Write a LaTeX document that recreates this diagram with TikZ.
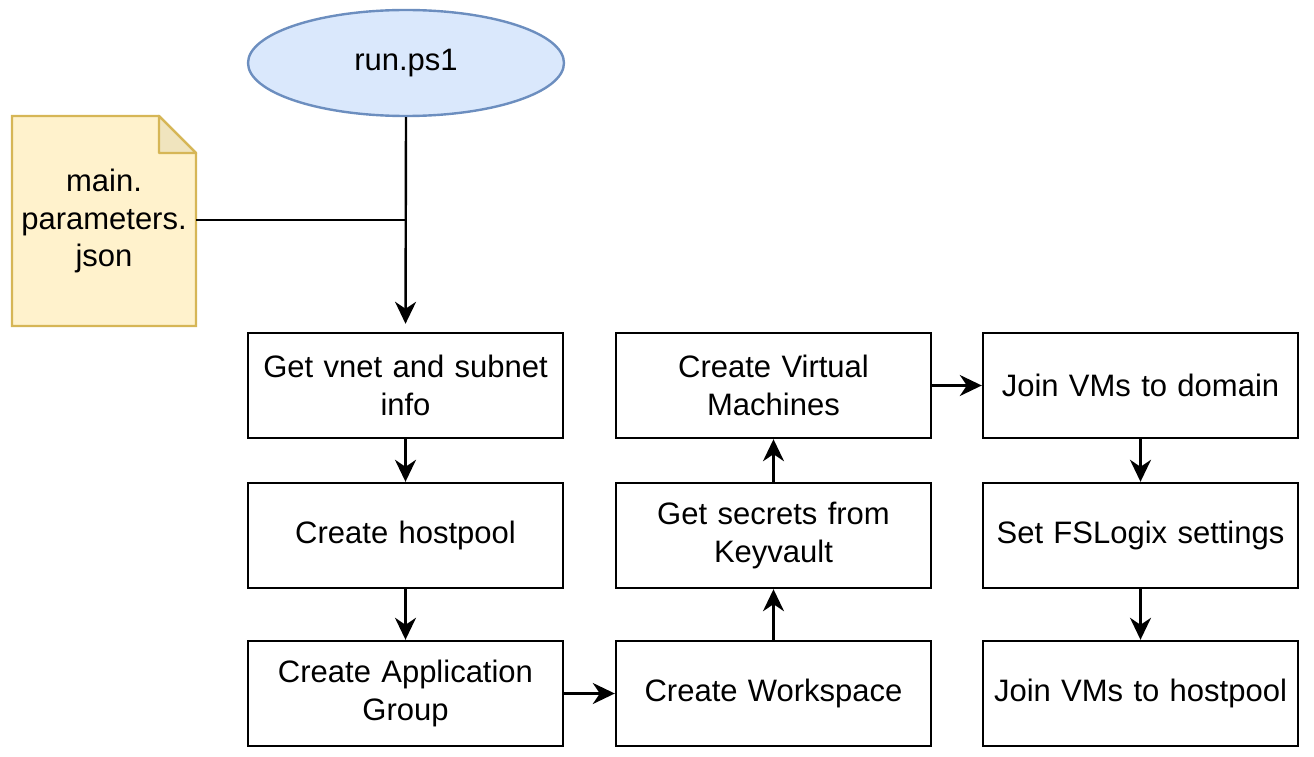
\documentclass[tikz,border=0pt]{standalone}
\usepackage{fontspec}
\setmainfont{Liberation Sans}
\usetikzlibrary{shapes.geometric,arrows.meta}
\definecolor{blueFill}{HTML}{DAE8FC}
\definecolor{blueLine}{HTML}{6C8EBF}
\definecolor{noteFill}{HTML}{FFF2CC}
\definecolor{noteLine}{HTML}{D6B656}
\definecolor{foldFill}{HTML}{F0E4BE}
\begin{document}
\begin{tikzpicture}[x=1pt,y=-1pt,
  every node/.style={font=\fontsize{31}{37.5}\selectfont, align=center},
  stepbox/.style={draw=black, line width=2.4pt, minimum width=315pt, minimum height=105pt, inner sep=0pt, text width=310pt},
  conn/.style={line width=2.4pt, -{Stealth[length=22pt,width=21pt,inset=7pt]}},
  plain/.style={line width=2.4pt}]
\useasboundingbox (0,0) rectangle (1314,757);
% ellipse
\node[ellipse, draw=blueLine, fill=blueFill, line width=2.4pt, minimum width=316pt, minimum height=106pt, inner sep=0pt] (run) at (406,63) {run.ps1};
% note
\draw[noteLine, fill=noteFill, line width=2.4pt] (12,116) -- (159,116) -- (196,153) -- (196,326) -- (12,326) -- cycle;
\draw[noteLine, fill=foldFill, line width=2.4pt, line join=round] (159,116) -- (159,153) -- (196,153) -- cycle;
\node[minimum width=184pt, minimum height=210pt, inner sep=0pt] (note) at (104,221) {main.\\parameters.\\json};
% boxes
\node[stepbox] (vnet) at (405.5,385.5) {Get vnet and subnet\\info};
\node[stepbox] (hostpool) at (405.5,535.5) {Create hostpool};
\node[stepbox] (appgrp) at (405.5,693.5) {Create Application\\Group};
\node[stepbox] (workspace) at (773.5,693.5) {Create Workspace};
\node[stepbox] (secrets) at (773.5,535.5) {Get secrets from\\Keyvault};
\node[stepbox] (vms) at (773.5,385.5) {Create Virtual\\Machines};
\node[stepbox] (domain) at (1140.5,385.5) {Join VMs to domain};
\node[stepbox] (fslogix) at (1140.5,535.5) {Set FSLogix settings};
\node[stepbox] (joinhp) at (1140.5,693.5) {Join VMs to hostpool};
% connectors
\coordinate (joinpt) at (406,220);
\draw[conn, shorten >=8pt] (run.south) -- (vnet.north);
\draw[plain] (note.east |- joinpt) -- (joinpt);
\draw[conn] (vnet) -- (hostpool);
\draw[conn] (hostpool) -- (appgrp);
\draw[conn] (appgrp) -- (workspace);
\draw[conn] (workspace) -- (secrets);
\draw[conn] (secrets) -- (vms);
\draw[conn] (vms) -- (domain);
\draw[conn] (domain) -- (fslogix);
\draw[conn] (fslogix) -- (joinhp);
\end{tikzpicture}
\end{document}
